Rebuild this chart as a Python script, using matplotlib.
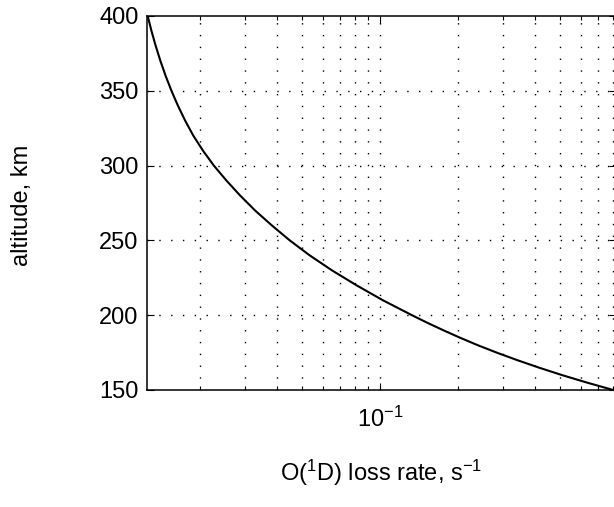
import matplotlib
matplotlib.use("Agg")
import matplotlib.pyplot as plt
from matplotlib.ticker import FixedLocator, FuncFormatter, NullFormatter

plt.rcParams['font.family'] = ['Liberation Sans', 'DejaVu Sans']
plt.rcParams['mathtext.fontset'] = 'custom'
plt.rcParams['mathtext.rm'] = 'Liberation Sans'
plt.rcParams['mathtext.it'] = 'Liberation Sans:italic'
plt.rcParams['mathtext.bf'] = 'Liberation Sans:bold'
plt.rcParams['lines.scale_dashes'] = False

# data
altitude = [150, 155, 160, 165, 170, 175, 180, 185, 190, 195, 200, 210, 220,
            230, 240, 250, 260, 270, 280, 290, 300, 310, 320, 330, 340, 350,
            360, 370, 380, 390, 400]
loss_rate = [0.802, 0.633, 0.507, 0.4125, 0.340, 0.2834, 0.2389, 0.2040,
             0.1757, 0.1523, 0.1330, 0.1026, 0.0811, 0.0651, 0.0534, 0.0447,
             0.0381, 0.0328, 0.0287, 0.0254, 0.0227, 0.0206, 0.0189, 0.01758,
             0.01648, 0.01555, 0.01476, 0.01409, 0.01351, 0.01301, 0.01258]

x_major = [0.1]
x_minor = [0.02, 0.03, 0.04, 0.05, 0.06, 0.07, 0.08, 0.09,
           0.2, 0.3, 0.4, 0.5, 0.6, 0.7, 0.8]
y_ticks = [150, 200, 250, 300, 350, 400]
x_range = (0.0125, 0.822)
y_range = (150, 400)

W, H = 614, 507
fig = plt.figure(figsize=(W / 100, H / 100), dpi=100)
left, right, top, bottom = 147, 616, 16, 390
ax = fig.add_axes([left / W, (H - bottom) / H, (right - left) / W, (bottom - top) / H])

ax.plot(loss_rate, altitude, color='black', lw=1.5, zorder=3)
ax.set_xscale('log')
ax.set_xlim(*x_range)
ax.set_ylim(*y_range)

ax.xaxis.set_major_locator(FixedLocator(x_major))
ax.xaxis.set_minor_locator(FixedLocator(x_minor))
ax.xaxis.set_major_formatter(FuncFormatter(lambda v, p: r'$\mathregular{10^{-1}}$'))
ax.xaxis.set_minor_formatter(NullFormatter())
ax.yaxis.set_major_locator(FixedLocator(y_ticks))

grid_kw = dict(color='black', lw=1.0, linestyle=(0, (1.0, 7.5)))
for v in x_major + x_minor:
    ax.axvline(v, zorder=1, **grid_kw)
for v in y_ticks[1:-1]:
    ax.axhline(v, zorder=1, **grid_kw)

ax.tick_params(which='both', direction='in', top=True, right=True,
               labelsize=17, colors='black', width=0.8)
ax.tick_params(which='major', length=5)
ax.tick_params(which='minor', length=3)
ax.tick_params(axis='x', pad=12)
ax.tick_params(axis='y', pad=6)

for s in ax.spines.values():
    s.set_linewidth(1.1)
    s.set_color('black')

ax.set_xlabel(r'O($\mathregular{^1}$D) loss rate, s$\mathregular{^{-1}}$',
              fontsize=17, labelpad=19)
fig.text(22 / W, (H - 205) / H, 'altitude, km', rotation=90, fontsize=17,
         ha='center', va='center')

fig.savefig('out.png', dpi=100)
